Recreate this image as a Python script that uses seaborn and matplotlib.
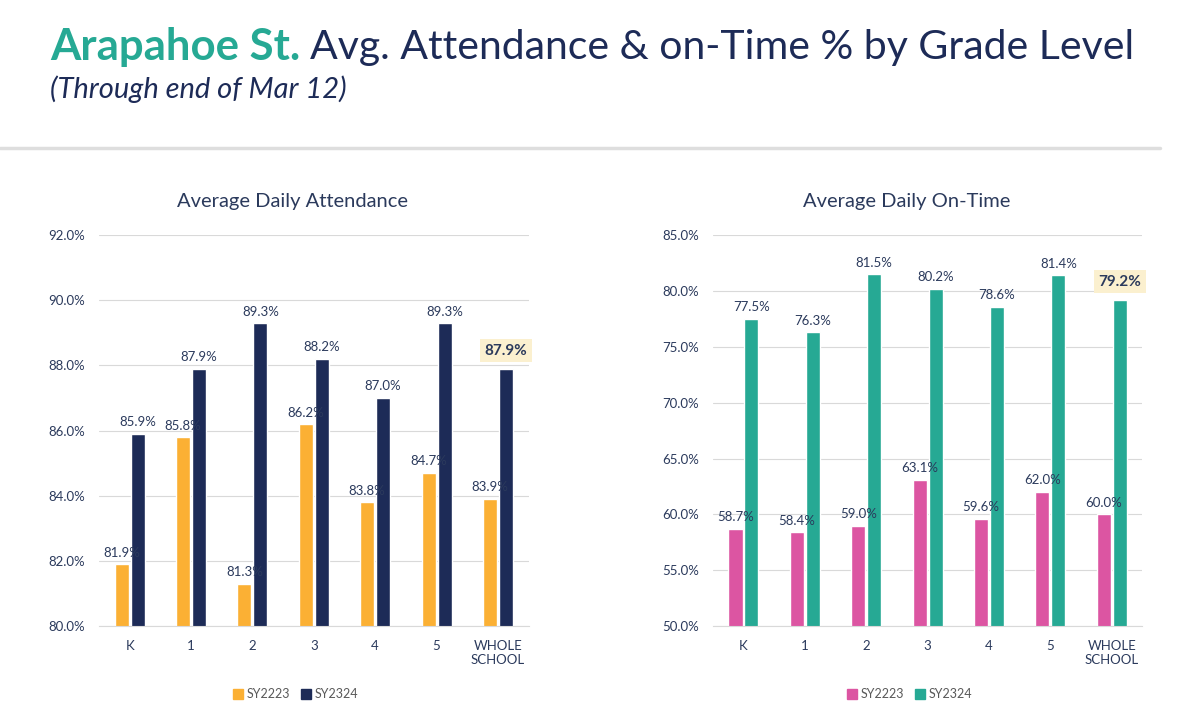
import pandas as pd
import seaborn as sns
import matplotlib.pyplot as plt
from matplotlib.lines import Line2D

sns.set_style("white")
plt.rcParams['font.family'] = ['Lato', 'DejaVu Sans']

grades = ['K', '1', '2', '3', '4', '5', 'WHOLE\nSCHOOL']
seasons = ['SY2223', 'SY2324']
attend_2223 = [81.9, 85.8, 81.3, 86.2, 83.8, 84.7, 83.9]
attend_2324 = [85.9, 87.9, 89.3, 88.2, 87.0, 89.3, 87.9]
ontime_2223 = [58.7, 58.4, 59.0, 63.1, 59.6, 62.0, 60.0]
ontime_2324 = [77.5, 76.3, 81.5, 80.2, 78.6, 81.4, 79.2]

NAVY = '#1d2b57'
TEAL = '#26a994'
TEXT = '#2b3a5c'


def long_frame(a, b):
    return pd.DataFrame({
        'Grade': grades * 2,
        'Season': [seasons[0]] * len(grades) + [seasons[1]] * len(grades),
        'Value': a + b,
    })


def draw_panel(ax, df, colors, ylim, step, title):
    sns.barplot(data=df, x='Grade', y='Value', hue='Season', palette=colors,
                width=0.52, gap=0.12, saturation=1, ax=ax, legend=False)
    ax.set_ylim(*ylim)
    ticks = [ylim[0] + i * step for i in range(int(round((ylim[1] - ylim[0]) / step)) + 1)]
    ax.set_yticks(ticks)
    ax.set_yticklabels([f'{t:.1f}%' for t in ticks], fontsize=9.5, color=TEXT)
    ax.tick_params(axis='x', labelsize=9.5, colors=TEXT, length=0, pad=10)
    ax.tick_params(axis='y', length=0, pad=10)
    ax.set_xlabel('')
    ax.set_ylabel('')
    ax.grid(axis='y', color='#d9d9d9', linewidth=0.8)
    ax.set_axisbelow(True)
    for s in ['top', 'right', 'left']:
        ax.spines[s].set_visible(False)
    ax.spines['bottom'].set_color('#d9d9d9')
    ax.set_title(title, fontsize=14.5, color=TEXT, pad=20, x=0.451)

    last = len(grades) - 1
    for ci, cont in enumerate(ax.containers):
        for i, bar in enumerate(cont):
            v = bar.get_height()
            x = bar.get_x() + bar.get_width() / 2
            if ci == 1 and i == last:
                ax.annotate(f'{v:.1f}%', (x, v), xytext=(0, 8), textcoords='offset points',
                            ha='center', va='bottom', fontsize=11, fontweight='bold',
                            color=TEXT,
                            bbox=dict(boxstyle='square,pad=0.3', fc='#fbf0cf', ec='none'))
            else:
                ax.annotate(f'{v:.1f}%', (x, v), xytext=(0, 4), textcoords='offset points',
                            ha='center', va='bottom', fontsize=9.5, color=TEXT)

    handles = [Line2D([], [], marker='s', linestyle='', markersize=7,
                      markerfacecolor=c, markeredgecolor=c) for c in colors]
    ax.legend(handles, seasons, loc='upper center', bbox_to_anchor=(0.458, -0.13),
              ncol=2, frameon=False, fontsize=9, handlelength=0.8, handletextpad=0.3,
              columnspacing=0.9, labelcolor='#595959')


fig = plt.figure(figsize=(12, 7.28), dpi=100)

bold = fig.text(0.042, 0.935, 'Arapahoe St.', fontsize=31.5, fontweight='bold',
                color=TEAL, ha='left', va='center')
renderer = fig.canvas.get_renderer()
bb = bold.get_window_extent(renderer).transformed(fig.transFigure.inverted())
fig.text(bb.x1 + 0.008, 0.935, 'Avg. Attendance & on-Time % by Grade Level', fontsize=29.5,
         color=NAVY, ha='left', va='center')
fig.text(0.042, 0.878, '(Through end of Mar 12)', fontsize=21, fontstyle='italic',
         color=NAVY, ha='left', va='center')
fig.add_artist(Line2D([0, 0.967], [0.797, 0.797], color='#dedede', linewidth=2.5,
                      transform=fig.transFigure))

ax1 = fig.add_axes([0.0825, 0.14, 0.358, 0.537])
ax2 = fig.add_axes([0.594, 0.14, 0.358, 0.537])

draw_panel(ax1, long_frame(attend_2223, attend_2324), ['#fbb034', NAVY],
           (80, 92), 2, 'Average Daily Attendance')
draw_panel(ax2, long_frame(ontime_2223, ontime_2324), ['#dc55a2', TEAL],
           (50, 85), 5, 'Average Daily On-Time')

fig.savefig('out.png', dpi=100)
